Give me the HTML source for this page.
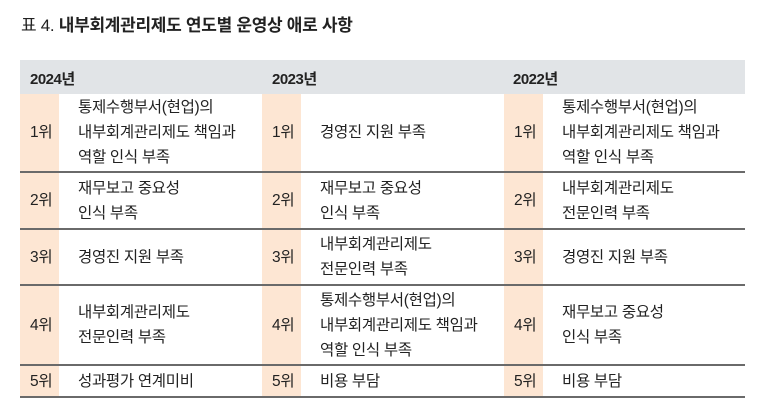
<!DOCTYPE html>
<html><head><meta charset="utf-8"><style>
body{margin:0;width:769px;height:406px;background:#fff;font-family:"Liberation Sans","Noto Sans CJK KR",sans-serif;color:#222;position:relative;overflow:hidden}
.t{position:absolute;left:21px;top:11px;font-size:17px;font-weight:bold;letter-spacing:-0.3px}
.t span{font-weight:normal}
.hd{position:absolute;left:20px;top:60px;width:725px;height:34px;background:#e1e4e7}
.hd div{position:absolute;top:8px;font-size:15px;font-weight:bold;letter-spacing:-0.5px}
.rk{position:absolute;width:39px;background:#fde6d3}
.ln{position:absolute;left:20px;width:725px;height:2px;background:#6a6a6a}
.c{position:absolute;font-size:15.5px;line-height:25px;display:flex;align-items:center;letter-spacing:-0.3px}
</style></head><body>
<div class="t"><span>표 4.</span> 내부회계관리제도 연도별 운영상 애로 사항</div>
<div class="hd"><div style="left:10px">2024년</div><div style="left:252px">2023년</div><div style="left:493px">2022년</div></div>
<div class="rk" style="left:20px;top:94px;height:303px"></div>
<div class="rk" style="left:262px;top:94px;height:303px"></div>
<div class="rk" style="left:504px;top:94px;height:303px"></div>
<div class="ln" style="top:171px"></div>
<div class="ln" style="top:228px"></div>
<div class="ln" style="top:284px"></div>
<div class="ln" style="top:364px"></div>
<div class="ln" style="top:396px"></div>
<div id="rows"></div>
<script>
var R=[[94,171],[173,228],[230,284],[286,364],[366,396]];
var D=[
["통제수행부서(현업)의<br>내부회계관리제도 책임과<br>역할 인식 부족","경영진 지원 부족","통제수행부서(현업)의<br>내부회계관리제도 책임과<br>역할 인식 부족"],
["재무보고 중요성<br>인식 부족","재무보고 중요성<br>인식 부족","내부회계관리제도<br>전문인력 부족"],
["경영진 지원 부족","내부회계관리제도<br>전문인력 부족","경영진 지원 부족"],
["내부회계관리제도<br>전문인력 부족","통제수행부서(현업)의<br>내부회계관리제도 책임과<br>역할 인식 부족","재무보고 중요성<br>인식 부족"],
["성과평가 연계미비","비용 부담","비용 부담"]];
var h="";var X=[20,262,504];
for(var i=0;i<5;i++)for(var j=0;j<3;j++){
var t=R[i][0],hh=R[i][1]-R[i][0];
h+='<div class="c" style="left:'+(X[j]+10)+'px;top:'+t+'px;height:'+hh+'px">'+(i+1)+'위</div>';
h+='<div class="c" style="left:'+(X[j]+58)+'px;top:'+t+'px;height:'+hh+'px"><div>'+D[i][j]+'</div></div>';}
document.getElementById("rows").innerHTML=h;
</script>
</body></html>
